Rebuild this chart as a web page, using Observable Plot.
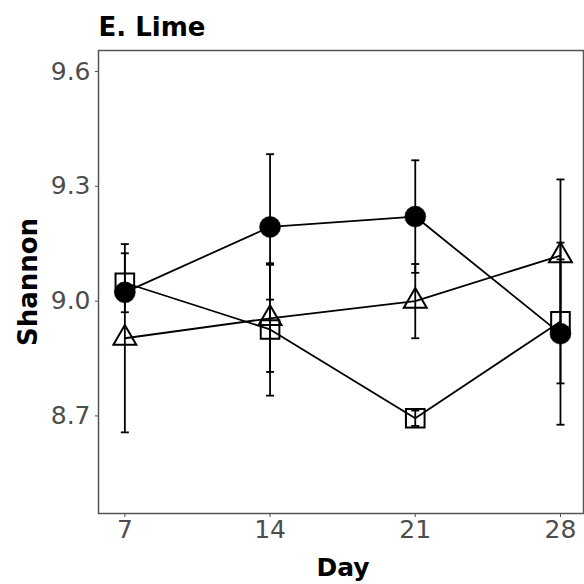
<!DOCTYPE html>
<html>
<head>
<meta charset="utf-8">
<script src="https://cdn.jsdelivr.net/npm/d3@7"></script>
<script src="https://cdn.jsdelivr.net/npm/@observablehq/plot@0.6"></script>
<style>
  html, body { margin: 0; padding: 0; background: white; }
</style>
</head>
<body>
<div id="chart"></div>
<script>
// ---- data ----
const title = "E. Lime";
const xLabel = "Day";
const yLabel = "Shannon";
const days = [7, 14, 21, 28];
const yTicks = [8.7, 9.0, 9.3, 9.6];

const circleMean = [9.023, 9.194, 9.221, 8.915];
const circleErr  = [0.02, 0.19, 0.147, 0.238];
const squareMean = [9.048, 8.926, 8.694, 8.947];
const squareErr  = [0.077, 0.173, 0.02, 0.162];
const triangleMean = [8.903, 8.955, 9.0, 9.119];
const triangleErr  = [0.246, 0.14, 0.097, 0.199];

// ---- tidy table ----
const seriesDefs = [
  {name: "circle", mean: circleMean, err: circleErr},
  {name: "square", mean: squareMean, err: squareErr},
  {name: "triangle", mean: triangleMean, err: triangleErr}
];
const table = seriesDefs.flatMap(s => days.map((d, i) => ({
  series: s.name, day: d, mean: s.mean[i], err: s.err[i]
})));
const bySeries = name => table.filter(d => d.series === name);

// horizontal cap symbol for error bars
const capSymbol = {
  draw(context, size) {
    const w = Math.sqrt(size / Math.PI);
    context.moveTo(-w, 0);
    context.lineTo(w, 0);
  }
};

const chart = Plot.plot({
  width: 584,
  height: 584,
  marginLeft: 98,
  marginRight: 1,
  marginTop: 50,
  marginBottom: 71,
  style: {
    fontFamily: "'DejaVu Sans', 'Liberation Sans', sans-serif",
    fontSize: "25px",
    color: "#4d4d4d",
    background: "white"
  },
  x: {
    domain: [5.73, 29.11],
    ticks: days,
    tickSize: 4,
    tickPadding: 3,
    label: null
  },
  y: {
    domain: [8.445, 9.655],
    ticks: yTicks,
    tickFormat: d3.format(".1f"),
    tickSize: 3,
    tickPadding: 5,
    label: null
  },
  marks: [
    Plot.frame({stroke: "#555", strokeWidth: 1.5}),
    Plot.line(table, {x: "day", y: "mean", z: "series", stroke: "black", strokeWidth: 1.8}),
    Plot.ruleX(table, {x: "day", y1: d => d.mean - d.err, y2: d => d.mean + d.err, stroke: "black", strokeWidth: 1.8}),
    Plot.dot(table, {x: "day", y: d => d.mean - d.err, symbol: capSymbol, r: 4, stroke: "black", strokeWidth: 1.8, fill: "none"}),
    Plot.dot(table, {x: "day", y: d => d.mean + d.err, symbol: capSymbol, r: 4, stroke: "black", strokeWidth: 1.8, fill: "none"}),
    Plot.dot(bySeries("square"), {x: "day", y: "mean", symbol: "square", r: 10.5, stroke: "black", strokeWidth: 2, fill: "none"}),
    Plot.dot(bySeries("triangle"), {x: "day", y: "mean", symbol: "triangle", r: 8.5, stroke: "black", strokeWidth: 2, fill: "none"}),
    Plot.dot(bySeries("circle"), {x: "day", y: "mean", symbol: "circle", r: 10.5, fill: "black", stroke: "black", strokeWidth: 0.5}),
    Plot.text([title], {text: d => d, frameAnchor: "top-left", textAnchor: "start", lineAnchor: "top", dy: -33, fontSize: 26, fontWeight: "bold", fill: "black"}),
    Plot.text([xLabel], {text: d => d, frameAnchor: "bottom", textAnchor: "middle", lineAnchor: "top", dx: 2, dy: 45, fontSize: 25, fontWeight: "bold", fill: "black"}),
    Plot.text([yLabel], {text: d => d, frameAnchor: "left", textAnchor: "middle", lineAnchor: "top", rotate: -90, dx: -80, fontSize: 26, fontWeight: "bold", fill: "black"})
  ]
});
document.getElementById("chart").appendChild(chart);
</script>
</body>
</html>
